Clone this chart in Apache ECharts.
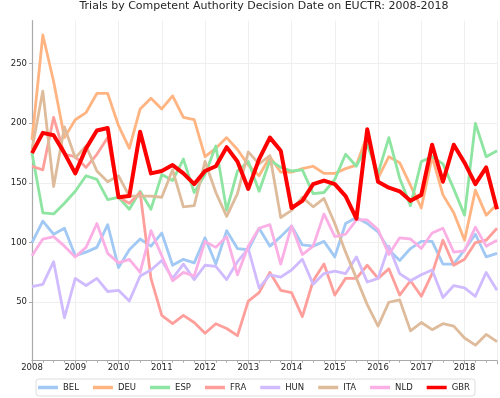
<!DOCTYPE html>
<html>
<head>
<meta charset="utf-8">
<script src="https://cdn.jsdelivr.net/npm/echarts@6/dist/echarts.min.js"></script>
<style>html,body{margin:0;padding:0;background:#fff}#c{width:500px;height:398px}</style>
</head>
<body>
<div id="c"></div>
<script>
// Quarterly dates 2008Q1 .. 2018Q4
const years = [2008,2009,2010,2011,2012,2013,2014,2015,2016,2017,2018];
const quarters = [];
years.forEach(y => { [0, 0.25, 0.5, 0.75].forEach(q => quarters.push(y + q)); });

const yTicks = [50, 100, 150, 200, 250];
const countries = ['BEL','DEU','ESP','FRA','HUN','ITA','NLD','GBR'];

const BEL = [100,118,107,112,89,92,96,115,79,94,103,97,108,81,86,83,104,82,110,95,94,112,97,105,114,98,97,101,88,116,121,116,109,94,85,95,101,101,82,82,94,107,88,91];
const DEU = [186,274,235,188,203,209,225,225,198,179,212,221,212,223,205,203,172,179,188,178,165,156,172,159,159,162,164,158,158,162,165,190,154,172,167,148,129,172,140,125,102,144,123,132];
const ESP = [175,125,124,133,143,156,153,136,138,128,143,128,157,152,170,142,157,181,127,160,168,143,169,163,160,161,141,142,153,174,164,182,158,188,154,131,168,172,166,145,123,200,172,177];
const FRA = [164,161,205,174,172,163,174,188,138,133,142,70,39,32,39,33,24,32,28,22,51,58,75,60,58,38,68,82,56,70,70,81,70,78,56,68,55,74,102,81,86,100,102,112];
const HUN = [63,65,84,37,70,64,70,59,60,51,72,77,85,70,82,69,81,80,69,84,95,62,73,71,77,86,65,74,76,74,88,67,70,97,74,68,73,77,54,64,62,55,75,60];
const ITA = [178,227,147,197,171,181,160,151,156,139,139,139,138,161,130,131,168,142,122,141,176,166,173,121,127,138,130,137,116,92,70,48,30,50,52,26,33,27,32,30,20,14,23,17];
const NLD = [89,103,105,97,88,96,116,91,83,86,75,110,89,68,75,72,101,96,105,73,97,112,115,82,114,90,97,124,105,107,119,119,111,90,104,103,95,108,112,92,93,113,97,102];
const GBR = [175,192,190,175,158,179,194,196,138,139,193,158,160,165,158,149,160,164,180,168,145,170,188,177,129,135,149,152,149,139,120,195,151,146,143,135,140,182,151,182,167,149,163,128];

const seriesValues = {BEL, DEU, ESP, FRA, HUN, ITA, NLD, GBR};
const colors = {BEL:'#a1c9f4', DEU:'#ffb482', ESP:'#8de5a1', FRA:'#ff9f9b', HUN:'#d0bbff', ITA:'#debb9b', NLD:'#fab0e4', GBR:'#ff0000'};

const FONT = 'DejaVu Sans';
const TXT = '#262626';

const chart = echarts.init(document.getElementById('c'), null, {renderer: 'canvas'});
chart.setOption({
  animation: false,
  backgroundColor: '#ffffff',
  title: {
    text: 'Trials by Competent Authority Decision Date on EUCTR: 2008-2018',
    left: 264, textAlign: 'center', top: 1, padding: 0,
    textStyle: {fontFamily: FONT, fontSize: 11, fontWeight: 'normal', color: TXT}
  },
  grid: {left: 32, right: 3, top: 20.7, bottom: 37.3, containLabel: false, outerBoundsMode: 'none'},
  legend: {
    data: countries,
    left: 36, top: 379,
    icon: 'rect', itemWidth: 20, itemHeight: 3.5, itemGap: 14,
    padding: [4, 5, 4, 2],
    borderColor: '#dddddd', borderWidth: 1, borderRadius: 3,
    backgroundColor: '#ffffff',
    textStyle: {fontFamily: FONT, fontSize: 8.5, color: TXT, padding: [0,0,0,0]}
  },
  xAxis: {
    type: 'value', min: 2008, max: 2018.75, interval: 1,
    axisLine: {show: true, lineStyle: {color: '#aaaaaa', width: 1.2}},
    axisTick: {show: true, length: 3.5, lineStyle: {color: '#aaaaaa'}},
    minorTick: {show: true, splitNumber: 4, length: 2, lineStyle: {color: '#aaaaaa'}},
    axisLabel: {fontFamily: FONT, fontSize: 8.5, color: TXT, margin: 3,
      formatter: v => Number.isInteger(v) ? String(v) : ''},
    splitLine: {show: true, lineStyle: {color: '#efefef', width: 1}}
  },
  yAxis: {
    type: 'value', min: 1, max: 286,
    name: '# of Trials', nameLocation: 'middle', nameGap: 20,
    nameTextStyle: {fontFamily: FONT, fontSize: 10.5, color: TXT},
    axisLine: {show: true, lineStyle: {color: '#aaaaaa', width: 1.2}},
    axisTick: {show: true, length: 3, lineStyle: {color: '#aaaaaa'}, customValues: yTicks},
    axisLabel: {fontFamily: FONT, fontSize: 8.5, color: TXT, margin: 5, customValues: yTicks},
    splitLine: {show: true, lineStyle: {color: '#efefef', width: 1}}
  },
  series: countries.map(c => ({
    name: c, type: 'line',
    data: quarters.map((q, i) => [q, seriesValues[c][i]]),
    showSymbol: false, symbol: 'none',
    color: colors[c],
    lineStyle: {color: colors[c], width: c === 'GBR' ? 4 : 2.8, join: 'round'},
    clip: true,
    z: c === 'GBR' ? 3 : 2
  }))
});
</script>
</body>
</html>
